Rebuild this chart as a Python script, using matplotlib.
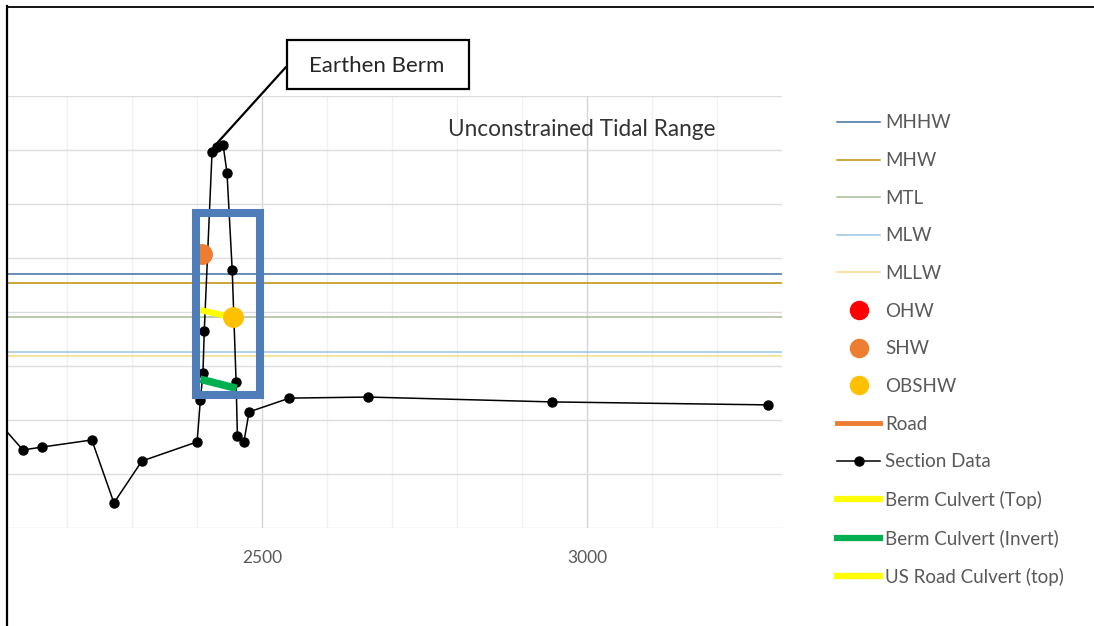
import matplotlib
matplotlib.use("Agg")
import matplotlib.pyplot as plt
from matplotlib.lines import Line2D
from matplotlib.patches import Rectangle
from matplotlib.ticker import MultipleLocator

plt.rcParams['font.family'] = ['Lato', 'DejaVu Sans']

# ---------------- data ----------------
section_x = [2095, 2132, 2162, 2238, 2272, 2315, 2400, 2405, 2409, 2411, 2423, 2431,
             2440, 2446, 2454, 2460, 2462, 2472, 2480, 2542, 2663, 2946, 3278]
section_y = [-0.10, -1.11, -1.00, -0.74, -3.07, -1.52, -0.81, 0.74, 1.74, 3.30, 9.93, 10.11,
             10.19, 9.15, 5.56, 1.41, -0.59, -0.81, 0.30, 0.81, 0.85, 0.67, 0.56]

tidal_names = ["MHHW", "MHW", "MTL", "MLW", "MLLW"]
tidal_levels = [5.40, 5.09, 3.81, 2.53, 2.37]
tidal_colors = ["#41709C", "#BF9000", "#A8BC96", "#9DC3E6", "#F2DC84"]

shw_x, shw_y = [2408], [6.15]
obshw_x, obshw_y = [2455], [3.81]
ohw_x, ohw_y = [], []
road_x, road_y = [], []
us_road_x, us_road_y = [], []

berm_top_x = [2405, 2455]
berm_top_y = [4.07, 3.80]
berm_inv_x = [2405, 2461]
berm_inv_y = [1.51, 1.17]

highlight_x = [2398, 2497]
highlight_y = [0.93, 7.67]
berm_peak = (2431, 10.26)

x_limits = [2109, 3300]
y_limits = [-4, 12]
x_ticks = [2500, 3000]

# ---------------- figure ----------------
W, H = 1094, 626
fig = plt.figure(figsize=(W / 100, H / 100), dpi=100)
ax = fig.add_axes([8 / W, 1 - 528 / H, (782 - 8) / W, (528 - 96) / H])

ax.set_xlim(*x_limits)
ax.set_ylim(*y_limits)
ax.set_xticks(x_ticks)
ax.xaxis.set_minor_locator(MultipleLocator(100))
ax.yaxis.set_major_locator(MultipleLocator(2))
ax.set_yticklabels([])
ax.tick_params(axis='y', length=0)
ax.tick_params(axis='x', which='both', length=0, pad=16, labelsize=12.5, labelcolor="#595959")
ax.grid(True, which='major', axis='y', color="#DCDCDC", lw=1.0)
ax.grid(True, which='major', axis='x', color="#D6D6D6", lw=1.0)
ax.grid(True, which='minor', axis='x', color="#F0F0F0", lw=1.0)
ax.set_axisbelow(True)
for s in ax.spines.values():
    s.set_visible(False)

for name, lvl, col in zip(tidal_names, tidal_levels, tidal_colors):
    ax.axhline(lvl, color=col, lw=1.1, zorder=2)

ax.plot(section_x, section_y, color="black", lw=1.1, marker="o", ms=6.5, zorder=4)
ax.plot(ohw_x, ohw_y, "o", color="#FF0000", ms=14, zorder=5)
ax.plot(shw_x, shw_y, "o", color="#ED7D31", ms=14, zorder=5)
ax.plot(berm_top_x, berm_top_y, color="#FFFF00", lw=4.5, solid_capstyle='butt', zorder=5)
ax.plot(berm_inv_x, berm_inv_y, color="#00B050", lw=5.5, solid_capstyle='butt', zorder=5)
ax.plot(obshw_x, obshw_y, "o", color="#FFC000", ms=14, zorder=6)
ax.plot(road_x, road_y, color="#ED7D31", lw=3)
ax.plot(us_road_x, us_road_y, color="#FFFF00", lw=4)

ax.add_patch(Rectangle((highlight_x[0], highlight_y[0]), highlight_x[1] - highlight_x[0],
                       highlight_y[1] - highlight_y[0], fill=False, ec="#4F7DBA", lw=5.8,
                       zorder=7, clip_on=False))

# annotation box
ax.annotate("", xy=berm_peak, xycoords='data', xytext=(286 / W, 1 - 67 / H),
            textcoords='figure fraction',
            arrowprops=dict(arrowstyle='-', lw=1.6, color='black', shrinkA=0, shrinkB=0),
            annotation_clip=False, zorder=8)
fig.patches.append(Rectangle((287 / W, 1 - 89 / H), 182 / W, 49 / H, transform=fig.transFigure,
                             fill=True, fc='white', ec='black', lw=1.6, zorder=9))
fig.text(377 / W, 1 - 66 / H, "Earthen Berm", ha='center', va='center', fontsize=16,
         color="#262626", zorder=10)

fig.text(582 / W, 1 - 129 / H, "Unconstrained Tidal Range", ha='center', va='center',
         fontsize=16.3, color="#333333")

# legend
handles = []
for name, col in zip(tidal_names, tidal_colors):
    handles.append(Line2D([], [], color=col, lw=1.1, label=name))
handles += [
    Line2D([], [], ls='none', marker='o', color="#FF0000", ms=13, label="OHW"),
    Line2D([], [], ls='none', marker='o', color="#ED7D31", ms=13, label="SHW"),
    Line2D([], [], ls='none', marker='o', color="#FFC000", ms=13, label="OBSHW"),
    Line2D([], [], color="#ED7D31", lw=3.5, label="Road"),
    Line2D([], [], color="black", lw=1.1, marker='o', ms=6.5, label="Section Data"),
    Line2D([], [], color="#FFFF00", lw=4.5, label="Berm Culvert (Top)"),
    Line2D([], [], color="#00B050", lw=4.5, label="Berm Culvert (Invert)"),
    Line2D([], [], color="#FFFF00", lw=4.5, label="US Road Culvert (top)"),
]
leg = fig.legend(handles=handles, loc='upper left', bbox_to_anchor=(837 / W, 1 - 114.5 / H),
                 frameon=False, fontsize=13.5, handlelength=2.3, handletextpad=0.27,
                 labelspacing=1.1, numpoints=1, borderpad=0, borderaxespad=0)
for t in leg.get_texts():
    t.set_color("#595959")

# image border
fig.add_artist(Line2D([7 / W, 7 / W], [0, 1 - 6 / H], color='black', lw=1.6,
                      transform=fig.transFigure))
fig.add_artist(Line2D([7 / W, 1], [1 - 6.5 / H, 1 - 6.5 / H], color='black', lw=1.3,
                      transform=fig.transFigure))

fig.savefig("out.png", dpi=100)
